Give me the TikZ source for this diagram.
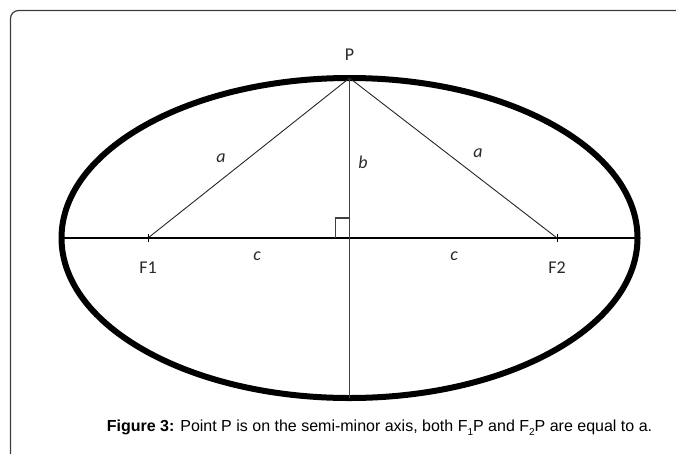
\documentclass[tikz,border=0pt]{standalone}
\usepackage{fontspec}
\setmainfont{Liberation Sans}
\newfontfamily\labelfont{Carlito}
\usetikzlibrary{calc}
\definecolor{labelgrey}{RGB}{40,40,45}
\definecolor{framegrey}{RGB}{60,60,60}
\newcommand\lowsub[1]{\raisebox{-4pt}{\fontsize{10}{10}\selectfont #1}}
\tikzset{
  framebox/.style={draw=framegrey,line width=1.2pt,rounded corners=8pt},
  orbit/.style={draw=black,line width=6pt},
  axisline/.style={draw=black,line width=1.6pt},
  minorline/.style={draw=black!75,line width=1.6pt},
  focusline/.style={draw=black!85,line width=0.9pt},
  tick/.style={draw=black,line width=1pt},
  lbl/.style={font=\labelfont\fontsize{18}{18}\selectfont,text=labelgrey,inner sep=0pt},
  mathlbl/.style={font=\labelfont\itshape\fontsize{18}{18}\selectfont,text=labelgrey,inner sep=0pt},
  caption/.style={font=\fontsize{16}{18}\selectfont,text=black,inner sep=0pt}
}
\begin{document}
\begin{tikzpicture}[x=1pt,y=-1pt]
  \clip (0,0) rectangle (676,453);
  \draw[framebox] (10.5,10.5) rectangle (700,480);

  % ellipse and its axes
  \coordinate (O) at (349.5,238);
  \coordinate (P) at (349.5,78);
  \coordinate (B) at (349.5,398);
  \coordinate (L) at (61.5,238);
  \coordinate (R) at (637.5,238);
  \coordinate (F1) at (148,238);
  \coordinate (F2) at (557,238);
  \draw[orbit] (O) ellipse [x radius=288pt,y radius=160pt];
  \draw[axisline] (L) -- (R);
  \draw[minorline] (P) -- (B);
  \draw[focusline] (P) -- (F1);
  \draw[focusline] (P) -- (F2);
  \foreach \f in {F1,F2}
    \draw[tick] ($(\f)+(0,-4)$) -- ($(\f)+(0,4)$);
  \draw[minorline,line width=1.2pt] ($(O)+(-14,0)$) |- ($(O)+(0,-20)$);

  % labels
  \node[lbl] (Plab) at (349.5,55) {P};
  \node[lbl] (F1lab) at (148,268) {F1};
  \node[lbl] (F2lab) at (557,268) {F2};
  \node[mathlbl] (aleft) at (221,158) {a};
  \node[mathlbl] (aright) at (478,153) {a};
  \node[mathlbl] (blab) at (363,162) {b};
  \node[mathlbl] (cleft) at (257,256) {c};
  \node[mathlbl] (cright) at (454,256) {c};

  \node[caption] (cap) at (379.5,428) {\textbf{Figure 3:} Point P is on the semi-minor axis, both F\lowsub{1}P and F\lowsub{2}P are equal to a.};
\end{tikzpicture}
\end{document}
